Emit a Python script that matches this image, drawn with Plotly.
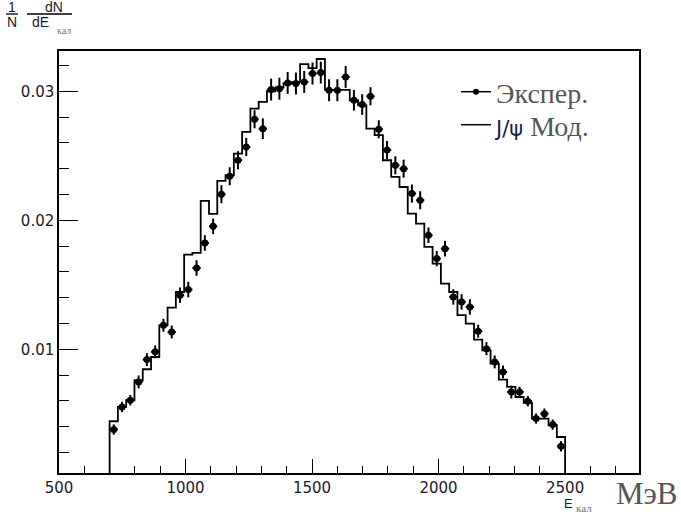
import numpy as np
import plotly.graph_objects as go

# ---- data ----
e_min, e_max, n_bins = 700, 2500, 55

exp_vals = [0.00378, 0.00553, 0.00605, 0.00747, 0.0092, 0.0098, 0.01186, 0.01134, 0.01419, 0.01463,
            0.0163, 0.01824, 0.01953, 0.02202, 0.02341, 0.02465, 0.02568, 0.02783, 0.0271, 0.03013,
            0.0302, 0.03064, 0.0306, 0.03072, 0.03137, 0.03145, 0.03008, 0.03008, 0.03111, 0.0293,
            0.02897, 0.02961, 0.02705, 0.02545, 0.02426, 0.024, 0.02207, 0.02155, 0.01884, 0.01703,
            0.0178, 0.01406, 0.01367, 0.01328, 0.0114, 0.01005, 0.00902, 0.00824, 0.00669, 0.00669,
            0.00597, 0.00463, 0.00501, 0.00416, 0.00248]

exp_errs = [0.0004, 0.0004, 0.0004, 0.0005, 0.0005, 0.0005, 0.0005, 0.0005, 0.0006, 0.0006,
            0.0006, 0.0006, 0.0006, 0.0007, 0.0007, 0.0007, 0.0007, 0.0007, 0.0008, 0.00085,
            0.00085, 0.00085, 0.00085, 0.00085, 0.00085, 0.00085, 0.00085, 0.00085, 0.00085, 0.0008,
            0.0008, 0.0007, 0.0007, 0.0007, 0.0007, 0.0007, 0.0007, 0.0007, 0.0006, 0.0006,
            0.0006, 0.0006, 0.0006, 0.0006, 0.0005, 0.0005, 0.0005, 0.0005, 0.0005, 0.0004,
            0.0004, 0.0004, 0.0004, 0.0004, 0.0004]

mod_vals = [0.00442, 0.00553, 0.00605, 0.0076, 0.00845, 0.0094, 0.01186, 0.01323, 0.01444, 0.01734,
            0.01747, 0.0215, 0.0205, 0.02305, 0.0235, 0.02517, 0.02685, 0.02866, 0.02917, 0.0300,
            0.0303, 0.0306, 0.0307, 0.0321, 0.0318, 0.0325, 0.0301, 0.0301, 0.0301, 0.0293,
            0.0289, 0.0271, 0.0266, 0.02465, 0.02336, 0.02258, 0.02052, 0.01974, 0.01793, 0.01664,
            0.01509, 0.01444, 0.01264, 0.01199, 0.01075, 0.00992, 0.00889, 0.00765, 0.00708, 0.0063,
            0.00584, 0.00463, 0.00463, 0.00411, 0.0032]

x_tick_vals = [500, 1000, 1500, 2000, 2500]
y_tick_vals = [0.01, 0.02, 0.03]
x_range = [500, 2792]
y_range = [0.00041, 0.03312]

edges = np.linspace(e_min, e_max, n_bins + 1)
centers = 0.5 * (edges[:-1] + edges[1:])
half_w = (edges[1] - edges[0]) / 2

# ---- layout geometry (pixels) ----
W_FIG, H_FIG = 681, 519
L, R, T, B = 59, 42, 51, 46
PW, PH = W_FIG - L - R, H_FIG - T - B

def px(xp):
    return (xp - L) / PW

def py(yp):
    return (T + PH - yp) / PH

fig = go.Figure()

# model histogram (step outline)
hx = [edges[0]] + list(edges)
hy = [0.0] + list(mod_vals) + [0.0]
fig.add_trace(go.Scatter(
    x=hx, y=hy, mode="lines", line=dict(color="black", width=1.8, shape="hv"),
    showlegend=False, hoverinfo="skip"))

# experimental points
fig.add_trace(go.Scatter(
    x=centers, y=exp_vals, mode="markers",
    marker=dict(color="black", size=7),
    error_y=dict(type="data", array=exp_errs, color="black", thickness=2, width=0),
    error_x=dict(type="constant", value=half_w, color="black", thickness=2, width=0),
    showlegend=False))

# legend proxies
fig.add_trace(go.Scatter(x=[None], y=[None], mode="lines+markers",
                         line=dict(color="black", width=1.5), marker=dict(color="black", size=6),
                         name="Экспер.", legend="legend"))
fig.add_trace(go.Scatter(x=[None], y=[None], mode="lines",
                         line=dict(color="black", width=1.5),
                         name="<span style='font-family:DejaVu Sans;font-size:21px;color:#1c1c48'>J/ψ</span> Мод.",
                         legend="legend2"))

tick_font = dict(family="DejaVu Sans", size=15, color="#1a1a2a")
axis_common = dict(showline=True, linecolor="black", linewidth=1.5, mirror=True,
                   ticks="inside", tickcolor="black", tickwidth=1.3,
                   showgrid=False, zeroline=False, tickfont=tick_font)

fig.update_xaxes(range=x_range, tickvals=x_tick_vals, ticklen=14,
                 minor=dict(dtick=100, ticklen=7, ticks="inside", tickcolor="black", tickwidth=1.3),
                 **axis_common)
fig.update_yaxes(range=y_range, tickvals=y_tick_vals, tickformat=".2f", ticklen=19,
                 minor=dict(dtick=0.002, ticklen=10, ticks="inside", tickcolor="black", tickwidth=1.3),
                 **axis_common)

ann = []
shapes = []
sans = "Liberation Sans"
serif = "Liberation Serif"
dark = "#1a1a2a"

def label(text, x, y, font, xanchor="center"):
    ann.append(dict(text=text, x=px(x), y=py(y), xref="paper", yref="paper", showarrow=False,
                    xanchor=xanchor, yanchor="middle", font=font))

# y-axis label: 1/N dN/dE_кал
label("1", 12, 7, dict(family=sans, size=14, color=dark))
label("dN", 54, 7, dict(family=sans, size=14, color=dark))
label("N", 12, 22, dict(family=sans, size=14, color=dark))
label("dE", 40, 22, dict(family=sans, size=14, color=dark))
label("кал", 55, 31, dict(family=serif, size=10, color="#777"), xanchor="left")
shapes.append(dict(type="line", xref="paper", yref="paper", x0=px(6), x1=px(18), y0=py(14), y1=py(14),
                   line=dict(color="black", width=1.3)))
shapes.append(dict(type="line", xref="paper", yref="paper", x0=px(27), x1=px(72), y0=py(14), y1=py(14),
                   line=dict(color="black", width=1.3)))
# x-axis label: E_кал МэВ
label("E", 568, 503, dict(family=sans, size=13, color=dark))
label("кал", 574, 508, dict(family=serif, size=11, color="#777"), xanchor="left")
label("МэВ", 680, 493, dict(family=serif, size=31, color="#555"), xanchor="right")

leg_common = dict(xanchor="left", yanchor="middle",
                  font=dict(family=serif, size=28, color="#555"),
                  bgcolor="rgba(0,0,0,0)", itemwidth=30, tracegroupgap=0)

fig.update_layout(
    width=W_FIG, height=H_FIG,
    margin=dict(l=L, r=R, t=T, b=B, pad=0),
    plot_bgcolor="white", paper_bgcolor="white",
    showlegend=True,
    legend=dict(x=px(456), y=py(92), **leg_common),
    legend2=dict(x=px(456), y=py(125), **leg_common),
    annotations=ann, shapes=shapes,
)

fig.write_html("out.html")
